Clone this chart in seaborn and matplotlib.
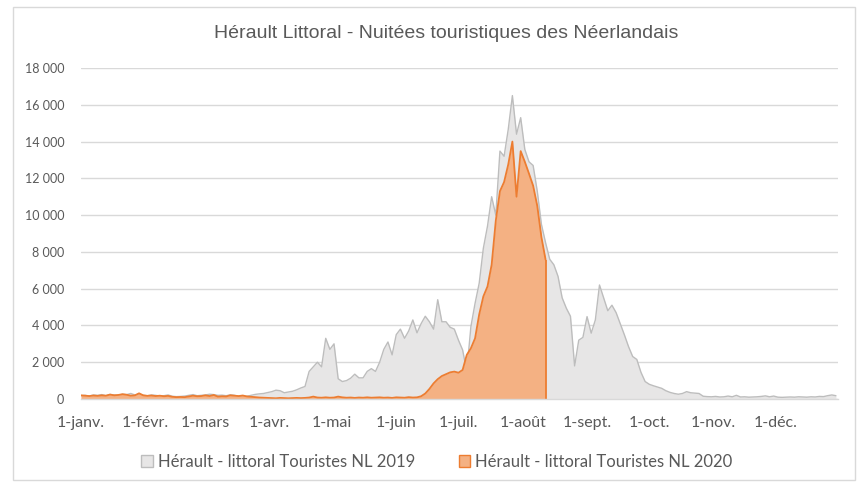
import numpy as np
import pandas as pd
import matplotlib.pyplot as plt
from matplotlib.patches import Patch, Rectangle
from matplotlib.ticker import FuncFormatter
import seaborn as sns

# valeurs lues tous les 2 jours (1er janv. -> 31 déc.)
nl_2019 = [180, 200, 160, 220, 200, 240, 180, 250, 220, 200,
           260, 240, 300, 220, 260, 200, 180, 220, 200, 160,
           180, 220, 150, 130, 140, 160, 200, 240, 180, 200,
           220, 260, 240, 200, 210, 180, 230, 200, 150, 140,
           150, 200, 250, 280, 300, 350, 400, 480, 450, 340,
           380, 420, 500, 600, 680, 1500, 1750, 2000, 1750, 3300,
           2700, 3000, 1100, 950, 1000, 1130, 1350, 1150, 1150, 1500,
           1650, 1500, 2000, 2700, 3100, 2400, 3500, 3800, 3300, 3700,
           4300, 3600, 4100, 4500, 4200, 3800, 5400, 4200, 4200, 3900,
           3800, 3200, 2670, 1500, 3940, 5200, 6300, 8200, 9400, 11000,
           10000, 13480, 13200, 14660, 16500, 14400, 15300, 13570, 12900, 12700,
           11300, 9500, 8500, 7600, 7300, 6670, 5500, 4940, 4500, 1800,
           3200, 3350, 4480, 3580, 4300, 6200, 5500, 4800, 5100, 4700,
           4100, 3490, 2850, 2310, 2150, 1450, 950, 800, 720, 650,
           580, 450, 360, 300, 260, 300, 400, 340, 320, 300,
           150, 130, 120, 140, 110, 120, 160, 120, 200, 110,
           120, 100, 110, 120, 140, 170, 120, 160, 100, 90,
           100, 110, 100, 120, 110, 100, 120, 110, 140, 130,
           180, 220, 180]

nl_2020 = [200, 180, 160, 190, 170, 200, 180, 240, 200, 220,
           260, 230, 180, 200, 310, 200, 170, 190, 160, 180,
           150, 170, 120, 100, 110, 100, 140, 180, 150, 160,
           200, 160, 220, 130, 150, 140, 200, 180, 160, 190,
           140, 120, 100, 80, 70, 60, 50, 40, 60, 50,
           40, 50, 60, 50, 60, 80, 130, 80, 70, 90,
           70, 80, 130, 90, 70, 80, 60, 80, 70, 90,
           70, 80, 90, 70, 80, 60, 90, 80, 70, 100,
           80, 90, 150, 300, 550, 850, 1080, 1250, 1350, 1450,
           1490, 1430, 1580, 2400, 2760, 3300, 4600, 5580, 6120, 7300,
           9700, 11300, 11800, 12750, 14000, 11000, 13480, 12900, 12260, 11600,
           10500, 8800, 7580]

month_labels = ['1-janv.', '1-févr.', '1-mars', '1-avr.', '1-mai', '1-juin',
                '1-juil.', '1-août', '1-sept.', '1-oct.', '1-nov.', '1-déc.']

label_2019 = 'Hérault - littoral Touristes NL 2019'
label_2020 = 'Hérault - littoral Touristes NL 2020'

dates = pd.date_range('2020-01-01', periods=len(nl_2019), freq='2D')
df = pd.DataFrame({'date': dates,
                   'nl_2019': nl_2019,
                   'nl_2020': nl_2020 + [np.nan] * (len(nl_2019) - len(nl_2020))})

sns.set_theme(style='white')
plt.rcParams['font.family'] = ['Lato', 'DejaVu Sans']

fig = plt.figure(figsize=(8.68, 4.83), dpi=100)
ax = fig.add_axes([81 / 868, 1 - 399 / 483, (838 - 81) / 868, (399 - 68) / 483])

# 2019 : aire grise
ax.fill_between(df['date'], df['nl_2019'], color='#E7E6E6', lw=0, zorder=2)
sns.lineplot(data=df, x='date', y='nl_2019', ax=ax, color='#BDBDBD', lw=1, zorder=3)

# 2020 : aire orange
d20 = df.dropna(subset=['nl_2020'])
ax.fill_between(d20['date'], d20['nl_2020'], color='#F4B183', lw=0, zorder=4)
sns.lineplot(data=d20, x='date', y='nl_2020', ax=ax, color='#ED7D31', lw=1.3, zorder=5)
ax.vlines(d20['date'].iloc[-1], 0, d20['nl_2020'].iloc[-1], color='#ED7D31', lw=1.3, zorder=5)

ax.set_xlim(pd.Timestamp('2020-01-01'), pd.Timestamp('2020-12-31'))
ax.set_ylim(0, 18000)
ax.set_yticks(np.arange(0, 18001, 2000))
ax.yaxis.set_major_formatter(FuncFormatter(lambda v, p: f'{int(v):,}'.replace(',', ' ')))
ax.set_xticks(pd.date_range('2020-01-01', periods=12, freq='MS'))
ax.set_xticklabels(month_labels)
ax.grid(axis='y', color='#D9D9D9', lw=1, zorder=0)
ax.set_axisbelow(True)
ax.set_xlabel('')
ax.set_ylabel('')
for s in ['top', 'right', 'left']:
    ax.spines[s].set_visible(False)
ax.spines['bottom'].set_color('#D9D9D9')
ax.spines['bottom'].set_linewidth(1)
ax.spines['bottom'].set_zorder(6)
ax.tick_params(axis='y', length=0, pad=12, labelsize=9, labelcolor='#595959')
ax.tick_params(axis='x', length=0, pad=12, labelsize=11.5, labelcolor='#595959')

fig.text(446 / 868, 1 - 34 / 483, 'Hérault Littoral - Nuitées touristiques des Néerlandais',
         ha='center', va='center', fontsize=14, color='#595959',
         family=['Liberation Sans', 'DejaVu Sans'])

handles = [Patch(facecolor='#E7E6E6', edgecolor='#BDBDBD', label=label_2019),
           Patch(facecolor='#F4B183', edgecolor='#ED7D31', label=label_2020)]
fig.legend(handles=handles, loc='center', bbox_to_anchor=(437 / 868, 1 - 462 / 483),
           ncol=2, frameon=False, fontsize=12, labelcolor='#595959',
           handlelength=0.7, handleheight=0.7, handletextpad=0.3, columnspacing=2.6)

# cadre du graphique
fig.patches.append(Rectangle((13 / 868, 3 / 483), 842 / 868, 473 / 483, transform=fig.transFigure,
                             fill=False, edgecolor='#D9D9D9', lw=1))

fig.savefig('out.png', dpi=100)
